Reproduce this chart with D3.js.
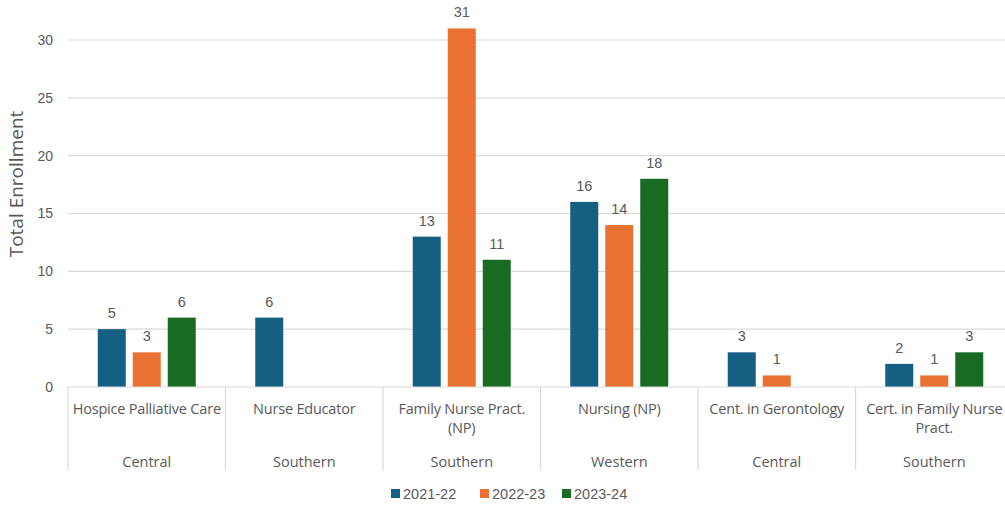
<!DOCTYPE html>
<html>
<head>
<meta charset="utf-8">
<script src="https://cdn.jsdelivr.net/npm/d3@7"></script>
<style>
  html, body { margin: 0; padding: 0; background: #fff; }
  svg { display: block; }
</style>
</head>
<body>
<svg id="chart" width="1005" height="508"></svg>
<script>
// Programs (line breaks mark wrapped label lines) and their regions
const programs = ["Hospice Palliative Care", "Nurse Educator", "Family Nurse Pract.\n(NP)", "Nursing (NP)", "Cent. in Gerontology", "Cert. in Family Nurse\nPract."];
const regions = ["Central", "Southern", "Southern", "Western", "Central", "Southern"];
const years = ["2021-22", "2022-23", "2023-24"];
const enroll2021 = [5, 6, 13, 16, 3, 2];
const enroll2022 = [3, null, 31, 14, 1, 1];
const enroll2023 = [6, null, 11, 18, null, 3];
const yTicks = [0, 5, 10, 15, 20, 25, 30];
const colors = ["#156082", "#E97132", "#196B24"];

const seriesValues = [enroll2021, enroll2022, enroll2023];

const svg = d3.select("#chart");
const left = 68, groupW = 157.5, y0 = 387, unit = 11.567;

const x0 = d3.scaleBand().domain(d3.range(programs.length))
  .range([left, left + groupW * programs.length]).padding(0);
const x1 = d3.scaleBand().domain(years).range([0, x0.bandwidth()])
  .paddingInner(0.2).paddingOuter(0.85);
const y = d3.scaleLinear().domain([0, 35]).range([y0, y0 - 35 * unit]);

// Gridlines
svg.append("g").selectAll("line").data(yTicks.filter(t => t > 0)).join("line")
  .attr("x1", left).attr("x2", 1005)
  .attr("y1", d => y(d)).attr("y2", d => y(d))
  .attr("stroke", "#d9d9d9").attr("stroke-width", 1.2);

// Y axis tick labels
const yAxis = d3.axisLeft(y).tickValues(yTicks).tickSize(0).tickPadding(0);
const yg = svg.append("g").attr("transform", `translate(${left - 15},0)`).call(yAxis);
yg.select(".domain").remove();
yg.selectAll("text").attr("font-family", "Liberation Sans, Arial, sans-serif")
  .attr("font-size", 14).attr("fill", "#595959");

// Y axis title
svg.append("text")
  .attr("transform", `translate(23,184) rotate(-90)`)
  .attr("text-anchor", "middle")
  .attr("font-family", "Open Sans, sans-serif").attr("font-size", 19)
  .attr("fill", "#595959").text("Total Enrollment");

// Bars
const groups = svg.append("g").selectAll("g").data(programs).join("g")
  .attr("transform", (d, i) => `translate(${x0(i)},0)`);

groups.each(function (p, i) {
  const g = d3.select(this);
  const vals = years.map((yr, s) => ({ yr, s, v: seriesValues[s][i] })).filter(d => d.v != null);
  g.selectAll("rect").data(vals).join("rect")
    .attr("x", d => x1(d.yr)).attr("width", x1.bandwidth())
    .attr("y", d => y(d.v)).attr("height", d => y0 - y(d.v))
    .attr("fill", d => colors[d.s]);
  g.selectAll("text.val").data(vals).join("text").attr("class", "val")
    .attr("x", d => x1(d.yr) + x1.bandwidth() / 2)
    .attr("y", d => y(d.v) - 11)
    .attr("text-anchor", "middle")
    .attr("font-family", "Liberation Sans, Arial, sans-serif").attr("font-size", 14.5)
    .attr("fill", "#595959").text(d => d.v);
});

// Category axis baseline
svg.append("line").attr("x1", left).attr("x2", 1005).attr("y1", y0).attr("y2", y0)
  .attr("stroke", "#d9d9d9").attr("stroke-width", 1.2);

// Group separators
svg.append("g").selectAll("line").data(d3.range(programs.length + 1)).join("line")
  .attr("x1", i => left + i * groupW).attr("x2", i => left + i * groupW)
  .attr("y1", y0).attr("y2", 470)
  .attr("stroke", "#d9d9d9").attr("stroke-width", 1.2);

// Program labels
const lab = svg.append("g").selectAll("text").data(programs).join("text")
  .attr("text-anchor", "middle")
  .attr("font-family", "Open Sans, sans-serif").attr("font-size", 14.5)
  .attr("letter-spacing", -0.2)
  .attr("fill", "#595959");
lab.each(function (p, i) {
  const t = d3.select(this);
  p.split("\n").forEach((line, k) => {
    t.append("tspan").attr("x", x0(i) + groupW / 2).attr("y", 414 + k * 19).text(line);
  });
});

// Region labels
svg.append("g").selectAll("text").data(regions).join("text")
  .attr("x", (d, i) => x0(i) + groupW / 2).attr("y", 467)
  .attr("text-anchor", "middle")
  .attr("font-family", "Open Sans, sans-serif").attr("font-size", 14.5)
  .attr("fill", "#595959").text(d => d);

// Legend
const legendX = [391, 480, 562];
const leg = svg.append("g").selectAll("g").data(years).join("g")
  .attr("transform", (d, i) => `translate(${legendX[i]},489)`);
leg.append("rect").attr("width", 9).attr("height", 9).attr("fill", (d, i) => colors[i]);
leg.append("text").attr("x", 12).attr("y", 9.5)
  .attr("font-family", "Liberation Sans, Arial, sans-serif").attr("font-size", 14.5)
  .attr("fill", "#595959").text(d => d);
</script>
</body>
</html>
